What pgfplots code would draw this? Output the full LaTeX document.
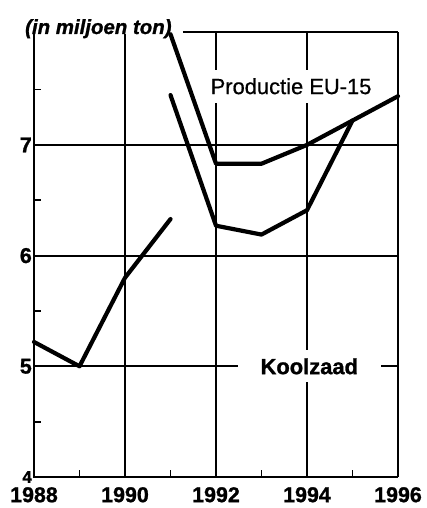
\documentclass[border=0pt]{standalone}
\usepackage{pgfplots}
\pgfplotsset{compat=1.18}
\usepackage{fontspec}
\setmainfont{Liberation Sans}[UprightFeatures={FakeBold=0.6}, BoldFeatures={FakeBold=1.2}, BoldItalicFeatures={FakeBold=1.2}]
\begin{document}
\begin{tikzpicture}
\begin{axis}[
  at={(34bp,31bp)}, anchor=south west,
  scale only axis, width=364bp, height=445bp,
  xmin=1988, xmax=1996, ymin=4, ymax=8.02,
  axis line style={draw=none},
  xtick={1988,1990,1992,1994,1996},
  xticklabels={1988,1990,1992,1994,1996},
  ytick={4,5,6,7},
  yticklabels={{\fontsize{17}{17}\selectfont 4},5,6,7},
  major tick length=0pt,
  minor xtick={1989,1991,1993,1995},
  minor ytick={4.5,5.5,6.5,7.5},
  minor tick length=7bp,
  tick align=inside, xtick pos=bottom, ytick pos=left,
  minor tick style={line width=1.8bp, black},
  ticklabel style={font=\fontsize{21.5}{21.5}\selectfont\bfseries, inner sep=0pt},
  xticklabel style={anchor=north, yshift=-10bp},
  yticklabel style={anchor=east, xshift=-2bp},
  clip=false,
]
% grid
\draw[line width=1.8bp] (axis cs:1988,5) -- (axis cs:1996,5);
\draw[line width=1.8bp] (axis cs:1988,6) -- (axis cs:1996,6);
\draw[line width=1.8bp] (axis cs:1988,7) -- (axis cs:1996,7);
\draw[line width=2bp] (axis cs:1990,4) -- (axis cs:1990,8.0);
\draw[line width=1.8bp] (axis cs:1992,4) -- (axis cs:1992,8.02);
\draw[line width=1.8bp] (axis cs:1994,4) -- (axis cs:1994,8.02);
% frame
\draw[line width=2.4bp] (axis cs:1988,8.0) -- (axis cs:1988,4) -- (axis cs:1996,4);
\draw[line width=2.2bp] (axis cs:1996,4) -- (axis cs:1996,8.02);
\draw[line width=2.2bp] (axis cs:1991.27,8.02) -- (axis cs:1996,8.02);
% labels
\node[fill=white, inner xsep=10bp, inner ysep=8.5bp, font=\fontsize{22}{22}\selectfont]
  at (axis cs:1993.65,7.53) {Productie EU-15};
\node[fill=white, inner xsep=23bp, inner ysep=8bp, font=\fontsize{22}{22}\selectfont\bfseries]
  at (axis cs:1994.05,5.0) {Koolzaad};
% data
\addplot[black, line width=4.2bp, line join=round, line cap=round] coordinates {
  (1988,5.22) (1989,5.0) (1990,5.8) (1991,6.33)
};
\addplot[black, line width=4.2bp, line join=round, line cap=round] coordinates {
  (1991,7.45) (1992,6.27) (1993,6.19) (1994,6.41) (1995,7.22)
};
\addplot[black, line width=4.2bp, line join=round, line cap=round] coordinates {
  (1991,8.0) (1992,6.83) (1993,6.83) (1994,7.0) (1995,7.22) (1996,7.44)
};
\end{axis}
\node[anchor=base west, inner sep=0pt, font=\fontsize{20.5}{20.5}\selectfont\bfseries\itshape]
  at (25bp,474bp) {(in miljoen ton)};
\pgfresetboundingbox
\path[use as bounding box] (0,0) rectangle (427bp,508bp);
\end{tikzpicture}
\end{document}
